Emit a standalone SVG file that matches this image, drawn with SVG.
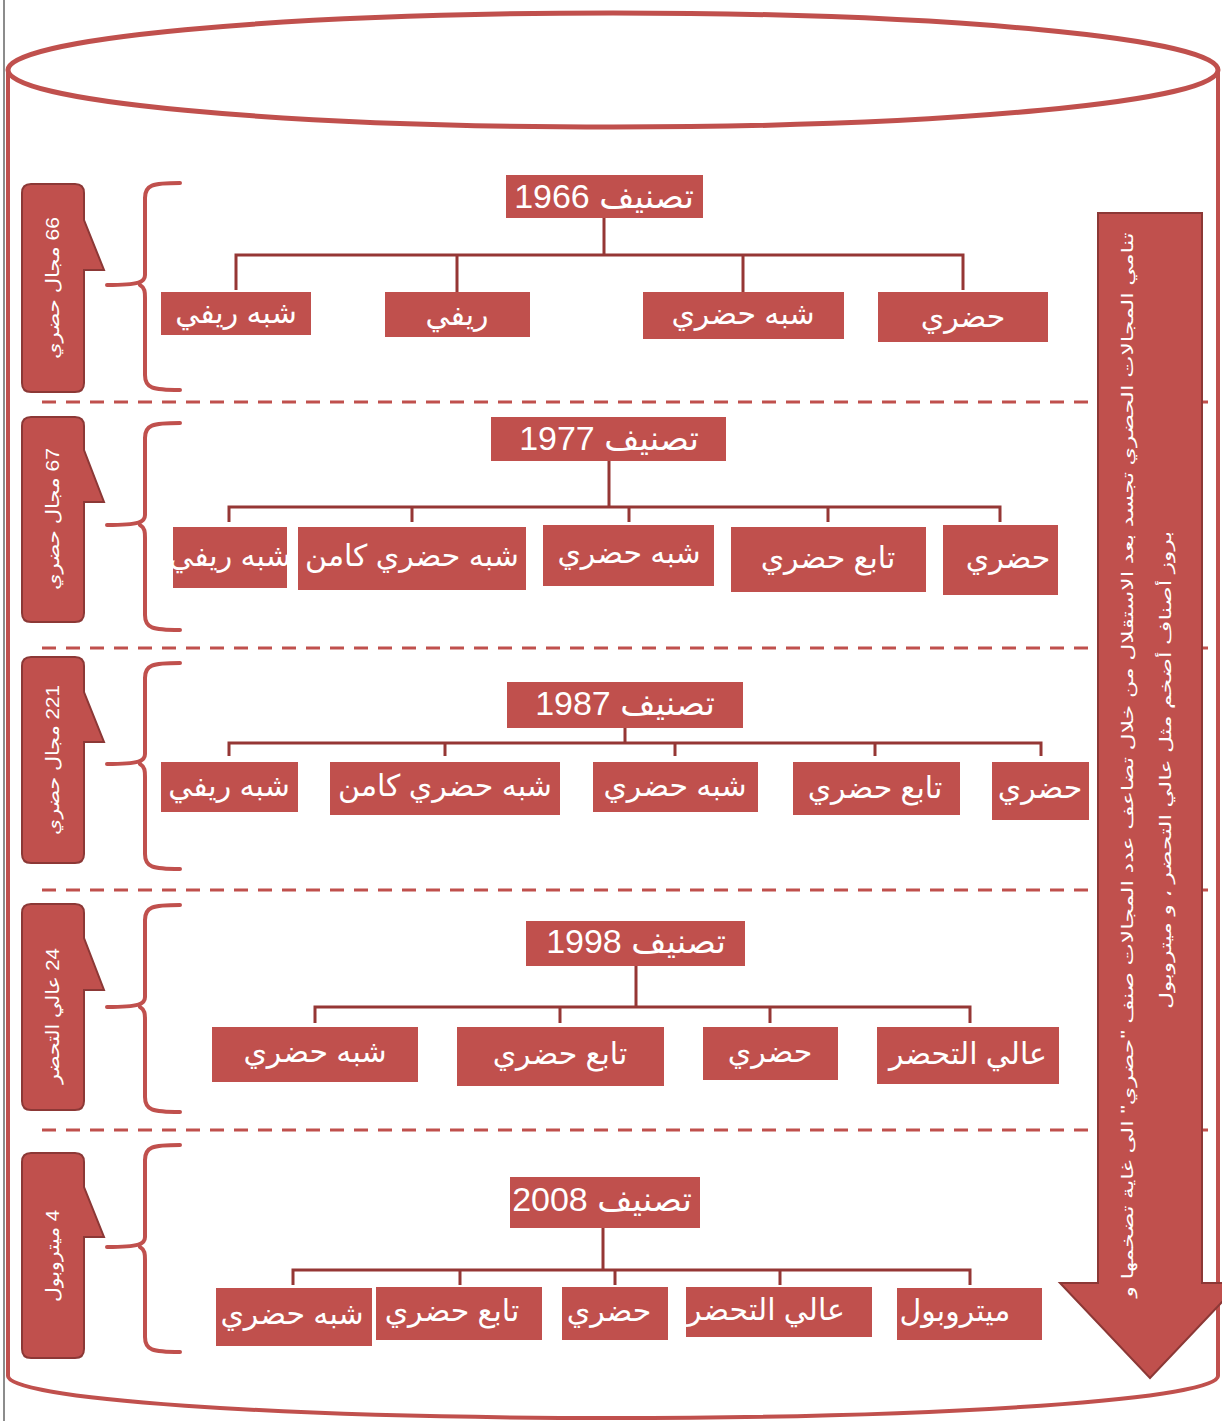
<svg xmlns="http://www.w3.org/2000/svg" width="1222" height="1421" viewBox="0 0 1222 1421">
<style>
.box{fill:#c0504d}
.t{fill:#fff;font-family:"Liberation Sans","DejaVu Sans",sans-serif;text-anchor:middle;dominant-baseline:central;direction:rtl}
.bt{font-size:30px}
.tt{font-size:34px}
.ct{font-size:18px}
.at{font-size:16px}
.conn{stroke:#953735;stroke-width:3;fill:none}
.brace{stroke:#c0504d;stroke-width:4;fill:none;stroke-linecap:round}
.dash{stroke:#c0504d;stroke-width:3;stroke-dasharray:14 10;fill:none}
.call{fill:#c0504d;stroke:#8c3836;stroke-width:2}
</style>
<rect x="0" y="0" width="1222" height="1421" fill="#fff"/>
<line x1="4" y1="0" x2="4" y2="1421" stroke="#666" stroke-width="1.5"/>
<g id="cylinder">
<path d="M8,70 L8,1376 A605,42 0 0 0 1218,1376 L1218,70" fill="none" stroke="#c0504d" stroke-width="4"/>
<ellipse cx="613" cy="70" rx="605" ry="57" fill="none" stroke="#c0504d" stroke-width="5"/>
</g>
<g id="separators">
<line class="dash" x1="42" y1="402" x2="1216" y2="402"/>
<line class="dash" x1="42" y1="648" x2="1216" y2="648"/>
<line class="dash" x1="42" y1="890" x2="1216" y2="890"/>
<line class="dash" x1="42" y1="1130" x2="1216" y2="1130"/>
</g>
<g id="braces">
<path class="brace" d="M180,183 C152,183 145,185 145,198 L145,275 C145,282 140,285 107,285 M140,285 C145,288 145,292 145,298 L145,375 C145,388 152,390 180,390"/>
<path class="brace" d="M180,423 C152,423 145,425 145,438 L145,515 C145,522 140,525 107,525 M140,525 C145,528 145,532 145,538 L145,615 C145,628 152,630 180,630"/>
<path class="brace" d="M180,663 C152,663 145,665 145,678 L145,754 C145,761 140,764 107,764 M140,764 C145,767 145,771 145,777 L145,854 C145,867 152,869 180,869"/>
<path class="brace" d="M180,905 C152,905 145,907 145,920 L145,997 C145,1004 140,1007 107,1007 M140,1007 C145,1010 145,1014 145,1020 L145,1097 C145,1110 152,1112 180,1112"/>
<path class="brace" d="M180,1145 C152,1145 145,1147 145,1160 L145,1237 C145,1244 140,1247 107,1247 M140,1247 C145,1250 145,1254 145,1260 L145,1337 C145,1350 152,1352 180,1352"/>
</g>
<g id="callout1">
<path class="call" d="M31,184 H75 Q84,184 84,193 V220 L104,270 H84 V383 Q84,392 75,392 H31 Q22,392 22,383 V193 Q22,184 31,184 Z"/>
<text class="t ct" transform="translate(53,288) rotate(-90)" textLength="142" lengthAdjust="spacingAndGlyphs">66 مجال حضري</text>
</g>
<g id="callout2">
<path class="call" d="M31,417 H75 Q84,417 84,426 V450 L104,502 H84 V613 Q84,622 75,622 H31 Q22,622 22,613 V426 Q22,417 31,417 Z"/>
<text class="t ct" transform="translate(53,519) rotate(-90)" textLength="142" lengthAdjust="spacingAndGlyphs">67 مجال حضري</text>
</g>
<g id="callout3">
<path class="call" d="M31,657 H75 Q84,657 84,666 V692 L104,742 H84 V854 Q84,863 75,863 H31 Q22,863 22,854 V666 Q22,657 31,657 Z"/>
<text class="t ct" transform="translate(53,760) rotate(-90)" textLength="150" lengthAdjust="spacingAndGlyphs">221 مجال حضري</text>
</g>
<g id="callout4">
<path class="call" d="M31,904 H75 Q84,904 84,913 V938 L104,990 H84 V1101 Q84,1110 75,1110 H31 Q22,1110 22,1101 V913 Q22,904 31,904 Z"/>
<text class="t ct" transform="translate(53,1016) rotate(-90)" textLength="136" lengthAdjust="spacingAndGlyphs">24 عالي التحضر</text>
</g>
<g id="callout5">
<path class="call" d="M31,1153 H75 Q84,1153 84,1162 V1187 L104,1237 H84 V1349 Q84,1358 75,1358 H31 Q22,1358 22,1349 V1162 Q22,1153 31,1153 Z"/>
<text class="t ct" transform="translate(53,1256) rotate(-90)" textLength="92" lengthAdjust="spacingAndGlyphs">4 ميتروبول</text>
</g>
<g id="connectors">
<path class="conn" d="M604,218 V255 M236,290 V255 H963 V290 M457,255 V292 M743,255 V292"/>
<path class="conn" d="M609,461 V507 M229,522 V507 H1000 V522 M412,507 V522 M629,507 V522 M828,507 V522"/>
<path class="conn" d="M625,728 V743 M229,756 V743 H1041 V756 M445,743 V756 M675,743 V756 M875,743 V756"/>
<path class="conn" d="M636,966 V1007 M315,1023 V1007 H970 V1023 M560,1007 V1023 M770,1007 V1023"/>
<path class="conn" d="M603,1228 V1270 M293,1285 V1270 H970 V1285 M460,1270 V1285 M615,1270 V1285 M780,1270 V1285"/>
</g>
<g id="row1966">
<g id="t1966"><rect class="box" x="506" y="175" width="197" height="43"/><text class="t tt" x="604" y="196">تصنيف 1966</text></g>
<g id="n1966a"><rect class="box" x="161" y="292" width="150" height="43"/><text class="t bt" x="236" y="312">شبه ريفي</text></g>
<g id="n1966b"><rect class="box" x="385" y="292" width="145" height="45"/><text class="t bt" x="457" y="314">ريفي</text></g>
<g id="n1966c"><rect class="box" x="643" y="292" width="201" height="47"/><text class="t bt" x="743" y="313">شبه حضري</text></g>
<g id="n1966d"><rect class="box" x="878" y="292" width="170" height="50"/><text class="t bt" x="963" y="316">حضري</text></g>
</g>
<g id="row1977">
<g id="t1977"><rect class="box" x="491" y="417" width="235" height="44"/><text class="t tt" x="609" y="438">تصنيف 1977</text></g>
<g id="n1977a"><rect class="box" x="173" y="527" width="114" height="61"/><text class="t bt" x="230" y="555">شبه ريفي</text></g>
<g id="n1977b"><rect class="box" x="298" y="527" width="228" height="63"/><text class="t bt" x="412" y="555">شبه حضري كامن</text></g>
<g id="n1977c"><rect class="box" x="543" y="525" width="171" height="61"/><text class="t bt" x="629" y="552">شبه حضري</text></g>
<g id="n1977d"><rect class="box" x="731" y="527" width="195" height="65"/><text class="t bt" x="828" y="557">تابع حضري</text></g>
<g id="n1977e"><rect class="box" x="943" y="525" width="115" height="70"/><text class="t bt" x="1008" y="557">حضري</text></g>
</g>
<g id="row1987">
<g id="t1987"><rect class="box" x="507" y="682" width="236" height="46"/><text class="t tt" x="625" y="703">تصنيف 1987</text></g>
<g id="n1987a"><rect class="box" x="161" y="762" width="137" height="50"/><text class="t bt" x="229" y="785">شبه ريفي</text></g>
<g id="n1987b"><rect class="box" x="330" y="762" width="230" height="53"/><text class="t bt" x="445" y="785">شبه حضري كامن</text></g>
<g id="n1987c"><rect class="box" x="593" y="762" width="165" height="50"/><text class="t bt" x="675" y="785">شبه حضري</text></g>
<g id="n1987d"><rect class="box" x="793" y="762" width="167" height="53"/><text class="t bt" x="875" y="787">تابع حضري</text></g>
<g id="n1987e"><rect class="box" x="992" y="762" width="97" height="58"/><text class="t bt" x="1040" y="787">حضري</text></g>
</g>
<g id="row1998">
<g id="t1998"><rect class="box" x="526" y="921" width="219" height="45"/><text class="t tt" x="636" y="941">تصنيف 1998</text></g>
<g id="n1998a"><rect class="box" x="212" y="1027" width="206" height="55"/><text class="t bt" x="315" y="1051">شبه حضري</text></g>
<g id="n1998b"><rect class="box" x="457" y="1027" width="207" height="59"/><text class="t bt" x="560" y="1053">تابع حضري</text></g>
<g id="n1998c"><rect class="box" x="703" y="1027" width="135" height="53"/><text class="t bt" x="770" y="1051">حضري</text></g>
<g id="n1998d"><rect class="box" x="877" y="1027" width="182" height="57"/><text class="t bt" x="968" y="1053">عالي التحضر</text></g>
</g>
<g id="row2008">
<g id="t2008"><rect class="box" x="510" y="1177" width="190" height="51"/><text class="t tt" x="602" y="1199">تصنيف 2008</text></g>
<g id="n2008a"><rect class="box" x="216" y="1288" width="156" height="58"/><text class="t bt" x="292" y="1313">شبه حضري</text></g>
<g id="n2008b"><rect class="box" x="376" y="1287" width="166" height="53"/><text class="t bt" x="452" y="1310">تابع حضري</text></g>
<g id="n2008c"><rect class="box" x="562" y="1287" width="106" height="53"/><text class="t bt" x="609" y="1310">حضري</text></g>
<g id="n2008d"><rect class="box" x="686" y="1287" width="186" height="50"/><text class="t bt" x="766" y="1309">عالي التحضر</text></g>
<g id="n2008e"><rect class="box" x="897" y="1288" width="145" height="52"/><text class="t bt" x="955" y="1310">ميتروبول</text></g>
</g>
<g id="trendArrow">
<path d="M1098,213 H1202 V1283 H1240 L1150,1378 L1060,1283 H1098 Z" fill="#c0504d" stroke="#8c3836" stroke-width="2"/>
<text class="t at" transform="translate(1127,765) rotate(-90)" textLength="1065" lengthAdjust="spacingAndGlyphs">تنامي المجالات الحضري تجسد بعد الاستقلال من خلال تضاعف عدد المجالات صنف "حضري" الى غاية تضخمها و</text>
<text class="t at" transform="translate(1165,770) rotate(-90)" textLength="478" lengthAdjust="spacingAndGlyphs">بروز أصناف أضخم مثل عالي التحضر ، و ميتروبول</text>
</g>
</svg>
